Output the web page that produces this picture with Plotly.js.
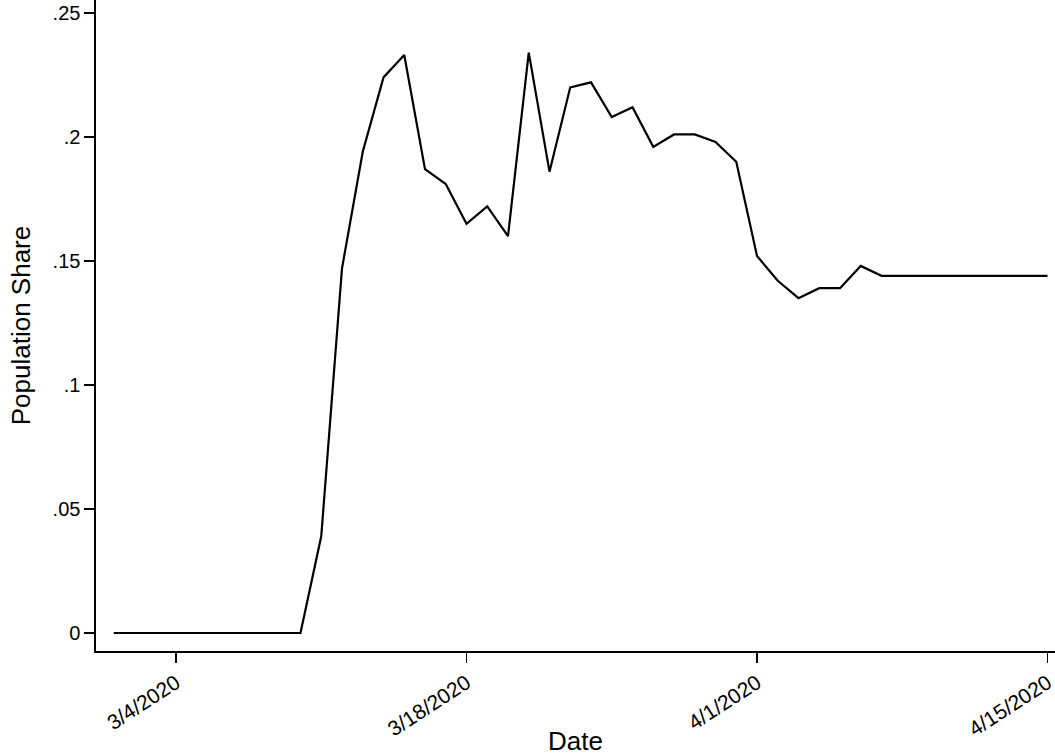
<!DOCTYPE html>
<html>
<head>
<meta charset="utf-8">
<script src="https://cdn.plot.ly/plotly-3.0.1.min.js"></script>
<style>html,body{margin:0;padding:0;background:#fff;}#chart{width:1055px;height:756px;}</style>
</head>
<body>
<div id="chart"></div>
<script>
const dates = [
  "2020-03-01","2020-03-02","2020-03-03","2020-03-04","2020-03-05","2020-03-06","2020-03-07","2020-03-08",
  "2020-03-09","2020-03-10","2020-03-11","2020-03-12","2020-03-13","2020-03-14","2020-03-15","2020-03-16",
  "2020-03-17","2020-03-18","2020-03-19","2020-03-20","2020-03-21","2020-03-22","2020-03-23","2020-03-24",
  "2020-03-25","2020-03-26","2020-03-27","2020-03-28","2020-03-29","2020-03-30","2020-03-31","2020-04-01",
  "2020-04-02","2020-04-03","2020-04-04","2020-04-05","2020-04-06","2020-04-07","2020-04-08","2020-04-09",
  "2020-04-10","2020-04-11","2020-04-12","2020-04-13","2020-04-14","2020-04-15"
];
const populationShare = [
  0, 0, 0, 0, 0, 0, 0, 0,
  0, 0, 0.039, 0.147, 0.194, 0.224, 0.233, 0.187,
  0.181, 0.165, 0.172, 0.160, 0.234, 0.186, 0.220, 0.222,
  0.208, 0.212, 0.196, 0.201, 0.201, 0.198, 0.190, 0.152,
  0.142, 0.135, 0.139, 0.139, 0.148, 0.144, 0.144, 0.144,
  0.144, 0.144, 0.144, 0.144, 0.144, 0.144
];
const xTickVals = ["2020-03-04", "2020-03-18", "2020-04-01", "2020-04-15"];
const xTickText = ["3/4/2020", "3/18/2020", "4/1/2020", "4/15/2020"];
const yTickVals = [0, 0.05, 0.1, 0.15, 0.2, 0.25];
const yTickText = ["0", ".05", ".1", ".15", ".2", ".25"];

const font = "Liberation Sans, Arial, Helvetica, sans-serif";

const trace = {
  x: dates,
  y: populationShare,
  type: "scatter",
  mode: "lines",
  line: {color: "#000000", width: 2.2},
  hoverinfo: "x+y"
};

const layout = {
  width: 1055,
  height: 756,
  margin: {l: 96, r: 0, t: 0, b: 105},
  paper_bgcolor: "#ffffff",
  plot_bgcolor: "#ffffff",
  showlegend: false,
  font: {family: font, color: "#000000", size: 20},
  xaxis: {
    type: "date",
    range: ["2020-02-29 03:28", "2020-04-15 08:40"],
    tickmode: "array",
    tickvals: xTickVals,
    ticktext: xTickText,
    tickangle: -33,
    ticklabeloverflow: "allow",
    ticks: "outside",
    ticklen: 10,
    tickwidth: 1.3,
    tickcolor: "#000000",
    showline: true,
    linecolor: "#000000",
    linewidth: 1.6,
    showgrid: false,
    zeroline: false,
    tickfont: {family: font, size: 21, color: "#000000"},
    title: {text: "Date", font: {family: font, size: 26, color: "#000000"}, standoff: 0}
  },
  yaxis: {
    range: [-0.00726, 0.2552],
    tickmode: "array",
    tickvals: yTickVals,
    ticktext: yTickText,
    ticks: "outside",
    ticklen: 10,
    tickwidth: 1.3,
    tickcolor: "#000000",
    showline: true,
    linecolor: "#000000",
    linewidth: 1.6,
    showgrid: false,
    zeroline: false,
    tickfont: {family: font, size: 20, color: "#000000"},
    title: {text: "Population Share", font: {family: font, size: 26, color: "#000000"}, standoff: 14}
  }
};

Plotly.newPlot("chart", [trace], layout, {displayModeBar: false, staticPlot: true});
</script>
</body>
</html>
